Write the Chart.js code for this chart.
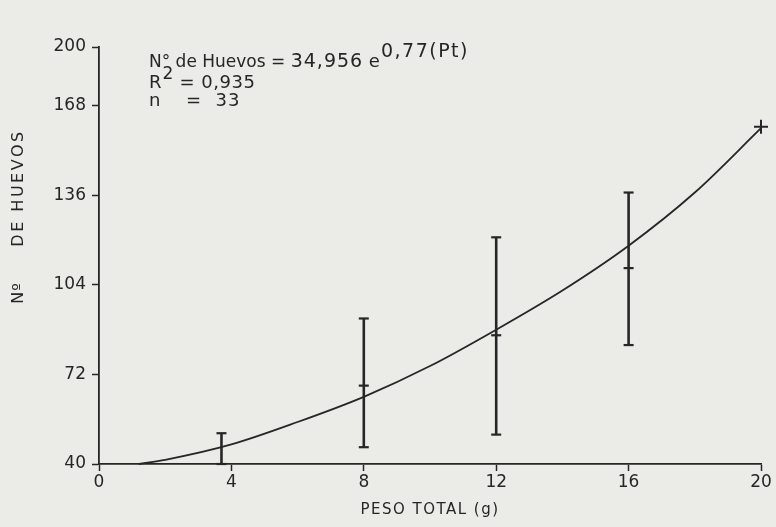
<!DOCTYPE html>
<html>
<head>
<meta charset="utf-8">
<script src="https://cdn.jsdelivr.net/npm/chart.js@4/dist/chart.umd.min.js"></script>
<style>
  html, body { margin: 0; padding: 0; background: #ebebe8; }
  #wrap { width: 776px; height: 527px; position: relative; }
</style>
</head>
<body>
<div id="wrap"><canvas id="c" width="776" height="527"></canvas></div>
<script>
// Fitted curve (egg count vs. total weight)
const curveX = [1.2, 2, 4, 6, 8, 10, 12, 14, 16, 18, 20];
const curveY = [40, 41.5, 47, 55, 64, 75, 88, 102, 118, 137, 160];

// Ranges observed per weight class, with class means
const barX    = [3.7, 8, 12, 16];
const barLow  = [40, 46, 50.5, 82.5];
const barHigh = [51, 92, 121, 137];
const barMean = [null, 68, 86, 110];

// Single observation at the heaviest weight
const endX = [20];
const endY = [160.5];

// Axis ticks
const xTicks = [0, 4, 8, 12, 16, 20];
const yTicks = [40, 72, 104, 136, 168];
const yTickLabels = ['40', '72', '104', '136', '168', '200'];
// The vertical axis ends short of a full step; its end tick carries the last label
const yAxisTop = 189;

const ink = '#262626';
const family = "'DejaVu Sans', sans-serif";

const datasets = [{
  data: curveX.map((x, i) => ({ x, y: curveY[i] })),
  showLine: true,
  borderColor: ink,
  borderWidth: 1.8,
  pointRadius: 0,
  cubicInterpolationMode: 'monotone',
  clip: false
}];

barX.forEach((x, i) => {
  datasets.push({
    data: [{ x, y: barLow[i] }, { x, y: barHigh[i] }],
    showLine: true,
    borderColor: ink,
    borderWidth: 2.6,
    pointStyle: 'line',
    pointRadius: 5,
    pointBorderWidth: 2.2,
    pointBorderColor: ink,
    clip: false
  });
});

datasets.push({
  data: barX.map((x, i) => ({ x, y: barMean[i] })).filter(p => p.y !== null),
  pointStyle: 'line',
  pointRadius: 5,
  pointBorderWidth: 2.2,
  pointBorderColor: ink,
  clip: false
});

datasets.push({
  data: endX.map((x, i) => ({ x, y: endY[i] })),
  pointStyle: 'cross',
  pointRadius: 7,
  pointBorderWidth: 2,
  pointBorderColor: ink,
  clip: false
});

function drawParts(ctx, x, baseline, parts) {
  let cx = x;
  parts.forEach(p => {
    ctx.font = p.size + 'px ' + family;
    ctx.letterSpacing = (p.ls || 0) + 'px';
    ctx.fillText(p.t, cx + (p.dx || 0), baseline + (p.dy || 0));
    cx += (p.dx || 0) + ctx.measureText(p.t).width;
  });
}

const textPlugin = {
  id: 'texts',
  afterDraw(chart) {
    const ctx = chart.ctx;
    ctx.save();
    ctx.fillStyle = ink;
    ctx.textBaseline = 'alphabetic';
    ctx.textAlign = 'left';

    // Regression note
    drawParts(ctx, 149, 67, [
      { t: 'N°', size: 17 },
      { t: ' de Huevos', size: 17 },
      { t: ' = ', size: 17 },
      { t: '34,956', size: 19, ls: 1 },
      { t: ' e', size: 18 },
      { t: '0,77(Pt)', size: 19, dy: -10, dx: 1, ls: 1.5 }
    ]);
    drawParts(ctx, 149, 88, [
      { t: 'R', size: 18 },
      { t: '2', size: 17, dy: -9, dx: 1 },
      { t: ' = 0,935', size: 18, ls: 0.5 }
    ]);
    drawParts(ctx, 149, 106, [{ t: 'n', size: 18 }]);
    drawParts(ctx, 186, 106, [{ t: '=  33', size: 18, ls: 1 }]);

    // Axis titles
    ctx.letterSpacing = '1.5px';
    ctx.font = '15px ' + family;
    ctx.textAlign = 'center';
    ctx.textBaseline = 'middle';
    ctx.fillText('PESO TOTAL (g)', 430, 510);

    ctx.translate(19, 0);
    ctx.rotate(-Math.PI / 2);
    ctx.font = '16px ' + family;
    ctx.letterSpacing = '2.5px';
    ctx.fillText('DE HUEVOS', -188, 0);
    ctx.letterSpacing = '1px';
    ctx.fillText('Nº', -293, 0);
    ctx.restore();
  }
};

new Chart(document.getElementById('c'), {
  type: 'scatter',
  data: { datasets },
  options: {
    responsive: false,
    animation: false,
    layout: { padding: { top: 47, right: 15, left: 0, bottom: 0 } },
    plugins: { legend: { display: false }, tooltip: { enabled: false } },
    scales: {
      x: {
        type: 'linear',
        min: 0,
        max: 20,
        afterBuildTicks: s => { s.ticks = xTicks.map(v => ({ value: v })); },
        afterFit: s => { s.height = 63; },
        grid: { drawOnChartArea: false, drawTicks: true, tickLength: 7, color: ink, tickWidth: 1.5 },
        border: { display: true, color: ink, width: 1.8 },
        ticks: { color: ink, font: { family, size: 17 }, padding: 1, maxRotation: 0 }
      },
      y: {
        type: 'linear',
        min: 40,
        max: yAxisTop,
        afterBuildTicks: s => { s.ticks = yTicks.concat([yAxisTop]).map(v => ({ value: v })); },
        afterFit: s => { s.width = 99; },
        grid: { drawOnChartArea: false, drawTicks: true, tickLength: 7, color: ink, tickWidth: 1.5 },
        border: { display: true, color: ink, width: 1.8 },
        ticks: {
          color: ink,
          font: { family, size: 17 },
          padding: 6,
          callback: (v, i) => yTickLabels[i]
        }
      }
    }
  },
  plugins: [textPlugin]
});
</script>
</body>
</html>
